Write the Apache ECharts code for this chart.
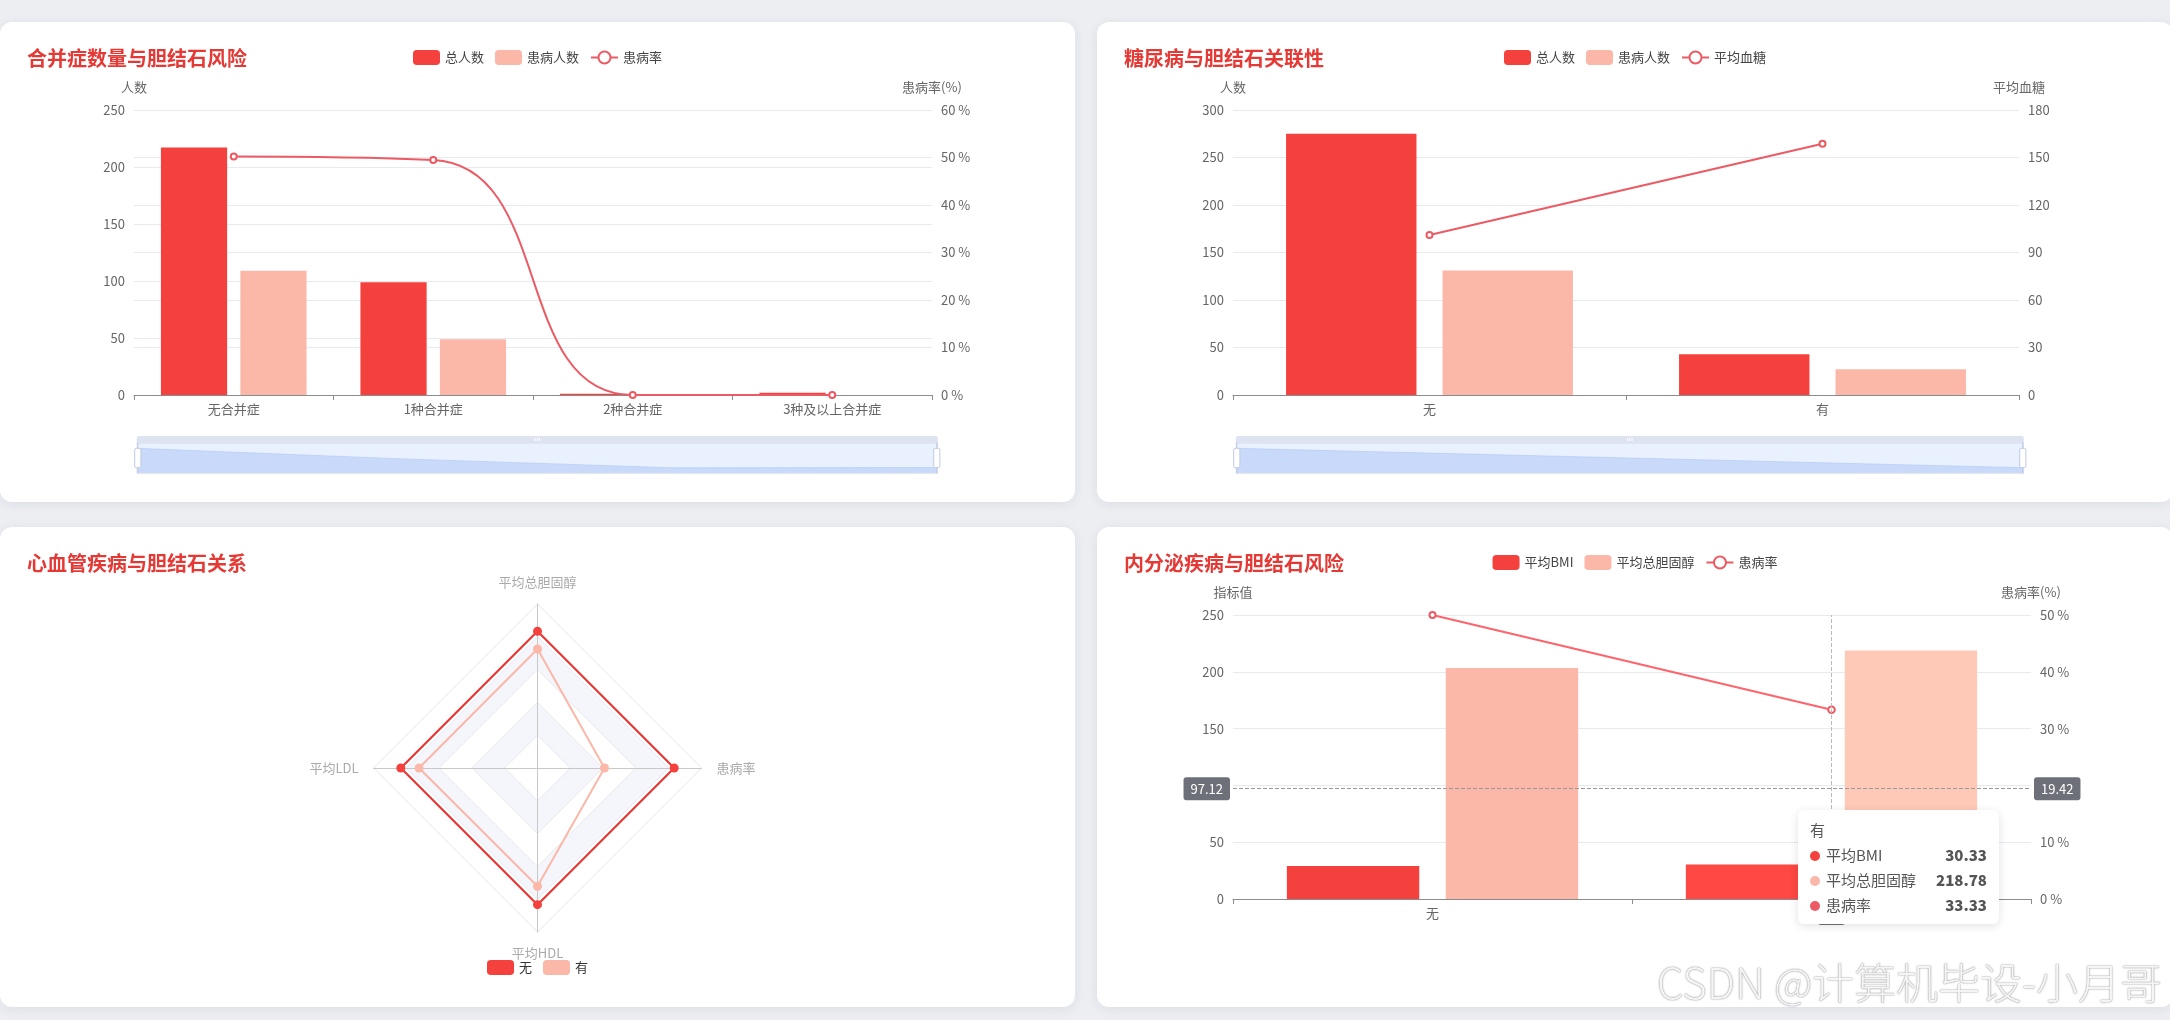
<!DOCTYPE html>
<html>
<head>
<meta charset="utf-8">
<script src="https://cdn.jsdelivr.net/npm/echarts@6/dist/echarts.min.js"></script>
<style>
html,body{margin:0;padding:0;width:2170px;height:1020px;overflow:hidden;background:#eceef2;}
.card{position:absolute;background:#fff;border-radius:12px;box-shadow:0 2px 12px rgba(30,40,70,0.08);}
.chart{position:absolute;left:0;top:0;width:100%;height:100%;}
#wm{position:absolute;left:1657px;top:956px;font-family:'Noto Sans CJK SC','Noto Sans',sans-serif;font-weight:300;font-size:42px;line-height:50px;color:rgba(255,255,255,0.92);text-shadow:0 0 1px rgba(120,120,120,0.9),0 0 2px rgba(120,120,120,0.6);white-space:nowrap;pointer-events:none;}
</style>
</head>
<body>
<div class="card" style="left:0;top:22px;width:1075px;height:480px;"><div id="c1" class="chart"></div></div>
<div class="card" style="left:1097px;top:22px;width:1076px;height:480px;"><div id="c2" class="chart"></div></div>
<div class="card" style="left:0;top:527px;width:1075px;height:480px;"><div id="c3" class="chart"></div></div>
<div class="card" style="left:1097px;top:527px;width:1076px;height:480px;"><div id="c4" class="chart"></div></div>
<div id="wm">CSDN @计算机毕设-小月哥</div>
<script>
// ---- data ----
const compCategories = ['无合并症', '1种合并症', '2种合并症', '3种及以上合并症'];
const compTotal = [217, 99, 1, 2];
const compSick = [109, 49, 0, 0];
const compRate = [50.23, 49.49, 0, 0];
const compCountTicks = [0, 50, 100, 150, 200, 250];
const compRateTicks = [0, 10, 20, 30, 40, 50, 60];

const diabCategories = ['无', '有'];
const diabTotal = [275, 43];
const diabSick = [131, 27];
const diabGlucose = [101.0, 158.7];
const diabCountTicks = [0, 50, 100, 150, 200, 250, 300];
const diabGlucoseTicks = [0, 30, 60, 90, 120, 150, 180];

const cardioIndicators = ['平均总胆固醇', '平均LDL', '平均HDL', '患病率'];
const cardioNo = [205.6, 128.4, 52.6, 50.2];
const cardioYes = [179.0, 111.3, 45.5, 24.6];
const cardioGroups = ['无', '有'];

const endoCategories = ['无', '有'];
const endoBMI = [29.0, 30.33];
const endoChol = [203.3, 218.78];
const endoRate = [50.0, 33.33];
const endoValueTicks = [0, 50, 100, 150, 200, 250];
const endoRateTicks = [0, 10, 20, 30, 40, 50];

// ---- styles ----
const RED = '#f5413d';
const PINK = '#fbb7a8';
const LINE = '#ec5a63';
const TITLE = '#e53935';
const FONT = "'Noto Sans CJK SC','Noto Sans',sans-serif";
const AXIS_TXT = '#666';
const SPLIT = '#e8eaf1';

function ticksAxis(ticks) {
  return { min: ticks[0], max: ticks[ticks.length - 1], interval: ticks[1] - ticks[0] };
}

function titleOpt(text) {
  return { text: text, left: 27, top: 26, padding: 0,
    textStyle: { color: TITLE, fontSize: 20, fontWeight: 'bold', fontFamily: FONT } };
}

function legendOpt(names, extra) {
  return Object.assign({
    top: 28, left: 'center', padding: 0,
    itemWidth: 27, itemHeight: 15, itemGap: 11,
    textStyle: { color: '#444', fontSize: 13, fontFamily: FONT },
    data: names
  }, extra || {});
}

function valueAxis(ticks, name, fmt, pos) {
  const t = ticksAxis(ticks);
  return {
    type: 'value', position: pos, name: name, min: t.min, max: t.max, interval: t.interval,
    nameGap: 16,
    nameTextStyle: { color: AXIS_TXT, fontSize: 13, fontFamily: FONT },
    axisLine: { show: false }, axisTick: { show: false },
    axisLabel: { color: AXIS_TXT, fontSize: 13, margin: 9, formatter: fmt || '{value}', fontFamily: FONT },
    splitLine: { show: true, lineStyle: { color: SPLIT, width: 1 } }
  };
}

function catAxis(cats) {
  return {
    type: 'category', data: cats,
    axisLine: { show: true, lineStyle: { color: '#8c8c8c', width: 1 } },
    axisTick: { show: true, length: 5, lineStyle: { color: '#8c8c8c' } },
    axisLabel: { color: AXIS_TXT, fontSize: 13, margin: 8, fontFamily: FONT },
    splitLine: { show: false }
  };
}

function barSeries(name, data, color) {
  return { name: name, type: 'bar', data: data, barGap: '20%', barCategoryGap: '27%',
    itemStyle: { color: color, borderRadius: 0 } };
}

function lineSeries(name, data, smooth) {
  return { name: name, type: 'line', yAxisIndex: 1, data: data, smooth: smooth,
    symbol: 'emptyCircle', symbolSize: 6, showSymbol: true,
    lineStyle: { color: LINE, width: 2 }, itemStyle: { color: LINE, borderColor: LINE, borderWidth: 2 } };
}

function sliderOpt(left, right) {
  return [{ type: 'slider', xAxisIndex: 0, left: left, right: right, top: 414, height: 31, start: 0, end: 100,
    borderColor: '#d5dcec',
    moveHandleStyle: { color: '#dde3f1', opacity: 1 },
    fillerColor: 'rgba(167,197,250,0.25)',
    dataBackground: { lineStyle: { color: '#c5d4f3' }, areaStyle: { color: '#d9e3f7' } },
    selectedDataBackground: { lineStyle: { color: '#a9c0f0' }, areaStyle: { color: '#c9d9f8', opacity: 0.8 } }
  }];
}

const common = { animation: false, textStyle: { fontFamily: FONT } };

// ---- chart 1 ----
const c1 = echarts.init(document.getElementById('c1'));
c1.setOption(Object.assign({}, common, {
  title: titleOpt('合并症数量与胆结石风险'),
  legend: legendOpt(['总人数', '患病人数', '患病率']),
  grid: { left: 134, right: 143, top: 88, bottom: 107 },
  xAxis: catAxis(compCategories),
  yAxis: [valueAxis(compCountTicks, '人数', '{value}', 'left'),
          valueAxis(compRateTicks, '患病率(%)', '{value} %', 'right')],
  dataZoom: sliderOpt(134, 140),
  series: [barSeries('总人数', compTotal, RED), barSeries('患病人数', compSick, PINK),
           lineSeries('患病率', compRate, true)]
}));

// ---- chart 2 ----
const c2 = echarts.init(document.getElementById('c2'));
c2.setOption(Object.assign({}, common, {
  title: titleOpt('糖尿病与胆结石关联性'),
  legend: legendOpt(['总人数', '患病人数', '平均血糖']),
  grid: { left: 136, right: 154, top: 88, bottom: 107 },
  xAxis: catAxis(diabCategories),
  yAxis: [valueAxis(diabCountTicks, '人数', '{value}', 'left'),
          valueAxis(diabGlucoseTicks, '平均血糖', '{value}', 'right')],
  dataZoom: sliderOpt(136, 152),
  series: [barSeries('总人数', diabTotal, RED), barSeries('患病人数', diabSick, PINK),
           lineSeries('平均血糖', diabGlucose, false)]
}));

// ---- chart 3 (radar) ----
const c3 = echarts.init(document.getElementById('c3'));
c3.setOption(Object.assign({}, common, {
  title: titleOpt('心血管疾病与胆结石关系'),
  legend: legendOpt(cardioGroups, { top: null, bottom: 32, textStyle: { color: '#333', fontSize: 13, fontFamily: FONT } }),
  radar: {
    center: ['50%', 241], radius: 164, startAngle: 90, shape: 'polygon', splitNumber: 5,
    nameGap: 15,
    axisName: { color: '#aaa', fontSize: 13, fontFamily: FONT },
    indicator: cardioIndicators.map((n, i) => ({ name: n, max: Math.max(cardioNo[i], cardioYes[i]) * 1.2 })),
    splitLine: { lineStyle: { color: '#e6e8ec' } },
    splitArea: { show: true, areaStyle: { color: ['rgba(255,255,255,0)', '#f5f6fb'] } },
    axisLine: { lineStyle: { color: '#c8c8c8' } }
  },
  series: [{
    type: 'radar',
    data: [
      { name: cardioGroups[0], value: cardioNo, symbol: 'circle', symbolSize: 9,
        lineStyle: { color: '#e53935', width: 2.2 }, itemStyle: { color: RED } },
      { name: cardioGroups[1], value: cardioYes, symbol: 'circle', symbolSize: 9,
        lineStyle: { color: PINK, width: 2 }, itemStyle: { color: PINK } }
    ]
  }]
}));

// ---- chart 4 ----
const c4 = echarts.init(document.getElementById('c4'));
c4.setOption(Object.assign({}, common, {
  title: titleOpt('内分泌疾病与胆结石风险'),
  legend: legendOpt(['平均BMI', '平均总胆固醇', '患病率']),
  grid: { left: 136, right: 142, top: 88, bottom: 108 },
  tooltip: {
    trigger: 'axis', transitionDuration: 0,
    axisPointer: { type: 'cross', crossStyle: { color: '#999', type: 'dashed' },
      lineStyle: { color: '#bbb', type: 'dashed' },
      label: { backgroundColor: '#6E7079', color: '#fff', fontSize: 13, padding: [5, 7, 5, 7] } },
    backgroundColor: '#fff', borderWidth: 0, padding: 12,
    textStyle: { fontSize: 15, color: '#555', fontFamily: FONT },
    extraCssText: 'box-shadow:0 2px 10px rgba(0,0,0,0.12);border-radius:6px;',
    position: function (p) { return [p[0], p[1] + 21]; }
  },
  xAxis: catAxis(endoCategories),
  yAxis: [valueAxis(endoValueTicks, '指标值', '{value}', 'left'),
          valueAxis(endoRateTicks, '患病率(%)', '{value} %', 'right')],
  series: [barSeries('平均BMI', endoBMI, RED), barSeries('平均总胆固醇', endoChol, PINK),
           lineSeries('患病率', endoRate, false)]
}));
function tip() { c4.dispatchAction({ type: 'showTip', x: 701, y: 261.67 }); }
tip();
setTimeout(tip, 50);
</script>
</body>
</html>
